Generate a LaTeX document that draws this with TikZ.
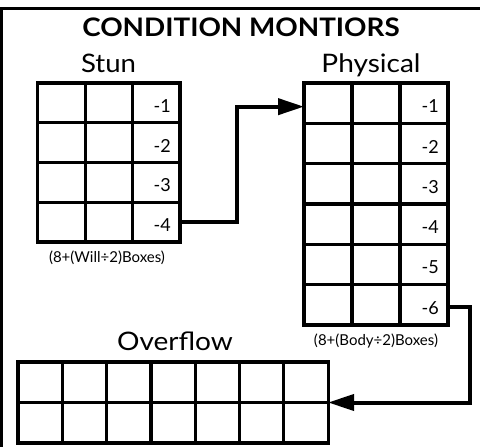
\documentclass[tikz,border=0pt]{standalone}
\usepackage{fontspec}
\setmainfont{Lato}
\usetikzlibrary{arrows.meta,calc}
\begin{document}
\begin{tikzpicture}[x=1pt,y=-1pt,
  cellbox/.style={draw,line width=3.2pt,inner sep=0pt,outer sep=0pt},
  stuncell/.style={cellbox,minimum width=47.4pt,minimum height=39.75pt},
  physcell/.style={cellbox,minimum width=48pt,minimum height=40.33pt},
  overcell/.style={cellbox,minimum width=44.3pt,minimum height=40.5pt},
  numlbl/.style={font=\fontsize{18}{18}\selectfont,anchor=east,inner sep=0pt},
  headlbl/.style={font=\fontsize{25.5}{25.5}\selectfont,anchor=base,inner sep=0pt},
  caplbl/.style={font=\fontsize{15}{15}\selectfont,anchor=center,inner sep=0pt},
  conn/.style={line width=4pt,-{Triangle[length=26pt,width=16pt]}}]
\clip (0,0) rectangle (480,447);
\draw[line width=2.2pt] (1.5,8.5) rectangle (490,460);
% title
\node[headlbl,font=\fontsize{25.5}{25.5}\selectfont\bfseries] (title) at (241,37) {\scalebox{1.09}[1]{CONDITION MONTIORS}};
% headings
\node[headlbl] (stunlbl) at (108.5,72) {\scalebox{1.08}[1]{Stun}};
\node[headlbl] (physlbl) at (371,72) {\scalebox{1.1}[1]{Physical}};
\node[headlbl] (overlbl) at (175,350) {\scalebox{1.1}[1]{Overflow}};
% stun grid
\foreach \r in {1,...,4}{
  \foreach \c in {1,2,3}{
    \node[stuncell] (s-\r-\c) at ({37.7+47.4*(\c-0.5)},{83+39.75*(\r-0.5)}) {};
  }
  \node[numlbl] (sn-\r) at ([xshift=-9pt,yshift=-3pt]s-\r-3.east) {-\r};
}
% physical grid
\foreach \r in {1,...,6}{
  \foreach \c in {1,2,3}{
    \node[physcell] (p-\r-\c) at ({304+48*(\c-0.5)},{83+40.33*(\r-0.5)}) {};
  }
  \node[numlbl] (pn-\r) at ([xshift=-9pt,yshift=-3pt]p-\r-3.east) {-\r};
}
% overflow grid
\foreach \r in {1,2}{
  \foreach \c in {1,...,7}{
    \node[overcell] (o-\r-\c) at ({18+44.3*(\c-0.5)},{362+40.5*(\r-0.5)}) {};
  }
}
% captions
\node[caplbl] (stuncap) at (107,258) {(8+(Will÷2)Boxes)};
\node[caplbl] (physcap) at (376,341) {(8+(Body÷2)Boxes)};
% connectors
\coordinate (j1) at (237,0);
\coordinate (j2) at (470,0);
\draw[conn] (s-4-3.east) -- (s-4-3.east -| j1) |- ([yshift=-3.5pt]p-1-1.west);
\draw[conn] ([yshift=-2pt]p-6-3.east) -- ([yshift=-2pt]p-6-3.east -| j2) |- (o-1-7.south east);
\end{tikzpicture}
\end{document}
